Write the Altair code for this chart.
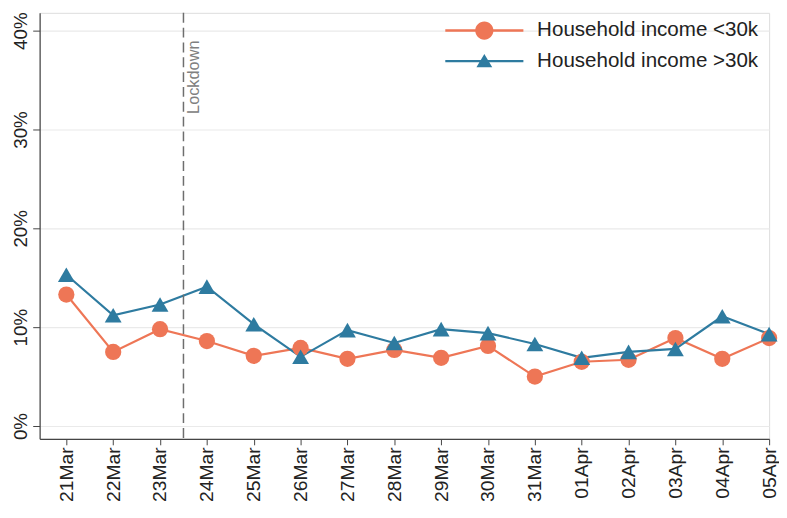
import altair as alt
import pandas as pd

days = ["21Mar", "22Mar", "23Mar", "24Mar", "25Mar", "26Mar", "27Mar", "28Mar",
        "29Mar", "30Mar", "31Mar", "01Apr", "02Apr", "03Apr", "04Apr", "05Apr"]
low_income = [13.3, 7.5, 9.8, 8.6, 7.1, 7.9, 6.8, 7.7, 6.9, 8.1, 5.0, 6.5, 6.7, 8.9, 6.8, 8.9]
high_income = [15.3, 11.2, 12.3, 14.1, 10.3, 7.0, 9.7, 8.4, 9.8, 9.4, 8.3, 6.9, 7.5, 7.8, 11.1, 9.3]
series_names = ["Household income <30k", "Household income >30k"]
series_colors = ["#EE7656", "#2E7BA0"]
y_ticks = [0, 10, 20, 30, 40]
lockdown_pos = [2.5]
lockdown_label = ["Lockdown"]

rows = []
for i, d in enumerate(days):
    rows.append({"idx": i, "day": d, "series": series_names[0], "value": low_income[i]})
    rows.append({"idx": i, "day": d, "series": series_names[1], "value": high_income[i]})
df = pd.DataFrame(rows)
lock_df = pd.DataFrame({"idx": lockdown_pos, "label": lockdown_label})

label_js = "[" + ",".join("'" + d + "'" for d in days) + "][datum.value]"

FONT = "Liberation Sans"

x_enc = alt.X("idx:Q",
              scale=alt.Scale(domain=[-0.57, 15.0], nice=False, zero=False),
              axis=alt.Axis(values=list(range(len(days))), labelExpr=label_js,
                            labelAngle=-90, labelFontSize=19.5, labelColor="#222222",
                            labelFont=FONT, labelPadding=2, tickSize=6, tickColor="#444444",
                            domainColor="#444444", domainWidth=1.2, grid=False, title=None))
y_scale = alt.Scale(domain=[-1.3, 41.8], nice=False, zero=False)
y_enc = alt.Y("value:Q", scale=y_scale,
              axis=alt.Axis(values=y_ticks, labelExpr="datum.value + '%'",
                            labelAngle=-90, labelAlign="center", labelBaseline="bottom",
                            labelFontSize=19, labelColor="#222222", labelFont=FONT,
                            labelPadding=2, tickSize=7, tickColor="#444444",
                            domainColor="#444444", domainWidth=1.2,
                            grid=True, gridColor="#EAEAEA", gridWidth=1.2, title=None))

color_scale = alt.Scale(domain=series_names, range=series_colors)

lines = alt.Chart(df).mark_line(strokeWidth=2.2).encode(
    x=x_enc, y=y_enc,
    color=alt.Color("series:N", scale=color_scale, legend=None),
    detail="series:N",
)

points = alt.Chart(df).mark_point(filled=True, opacity=1).encode(
    x="idx:Q", y="value:Q",
    color=alt.Color("series:N", scale=color_scale, legend=None),
    shape=alt.Shape("series:N", scale=alt.Scale(domain=series_names, range=["circle", "triangle-up"]),
                    legend=None),
    size=alt.Size("series:N", scale=alt.Scale(domain=series_names, range=[270, 290]), legend=None),
)

# legend symbols: line segment plus marker (custom paths)
circle_path = ("M-3.95,-0.12 H3.95 V0.12 H-3.95 Z "
               "M0,-0.92 A0.92,0.92 0 1,1 0,0.92 A0.92,0.92 0 1,1 0,-0.92 Z")
tri_path = ("M-3.95,-0.12 H3.95 V0.12 H-3.95 Z "
            "M0,-0.72 L0.8,0.62 L-0.8,0.62 Z")

leg = alt.Legend(title=None, orient="none", legendX=439.5, legendY=7.5, padding=0,
                 labelFontSize=20.8, labelFont=FONT, labelColor="#222222", labelLimit=0,
                 symbolSize=400, labelOffset=43, rowPadding=9, symbolStrokeWidth=0)

legend_layer = alt.Chart(df).transform_filter("false").mark_point(filled=True, opacity=1).encode(
    x="idx:Q", y="value:Q",
    color=alt.Color("series:N", scale=alt.Scale(domain=series_names, range=series_colors),
                    legend=leg),
    shape=alt.Shape("series:N", scale=alt.Scale(domain=series_names, range=[circle_path, tri_path]),
                    legend=leg),
)

rule = alt.Chart(lock_df).mark_rule(color="#6E6E6E", strokeWidth=1.5, strokeDash=[10, 5]).encode(
    x="idx:Q",
)

lock_text = alt.Chart(lock_df).mark_text(angle=270, align="right", baseline="top",
                                         dx=0, dy=3, fontSize=16.5, font=FONT,
                                         color="#808080").encode(
    x="idx:Q", y=alt.value(28), text="label:N",
)

chart = alt.layer(lines, points, rule, lock_text, legend_layer).resolve_scale(
    color="independent", shape="independent"
).properties(
    width=738, height=431, padding={"left": 4, "top": 0, "right": 0, "bottom": 0}
).configure_view(stroke=None).configure(background="white")

chart.save("out.html", embed_options={"renderer": "svg", "actions": False})
